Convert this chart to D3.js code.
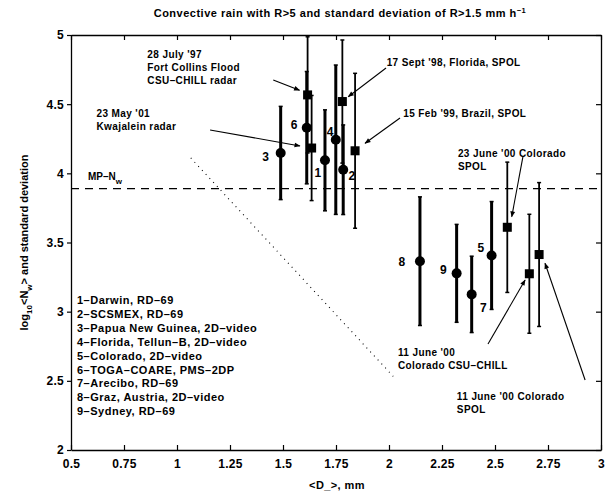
<!DOCTYPE html>
<html>
<head>
<meta charset="utf-8">
<script src="https://cdn.jsdelivr.net/npm/d3@7"></script>
<style>
  body { margin: 0; background: #fff; }
  text { font-family: "Liberation Sans", Arial, sans-serif; font-weight: bold; fill: #000; }
</style>
</head>
<body>
<svg id="chart"></svg>
<script>
// disdrometer sites (circles)
var siteIds = ["1", "2", "3", "4", "5", "6", "7", "8", "9"]
var siteD = [1.698, 1.784, 1.489, 1.749, 2.484, 1.612, 2.39, 2.146, 2.319]
var siteNw = [4.094, 4.026, 4.147, 4.243, 3.406, 4.33, 3.125, 3.365, 3.277]
var siteSd = [0.365, 0.324, 0.337, 0.54, 0.39, 0.406, 0.276, 0.465, 0.354]

// radar cases (squares)
var radarNames = ["28 July '97", "23 May '01", "17 Sept '98", "15 Feb '99", "23 June '00", "11 June '00 CHILL", "11 June '00 SPOL"]
var radarD = [1.616, 1.635, 1.78, 1.84, 2.558, 2.662, 2.708]
var radarNw = [4.567, 4.183, 4.519, 4.163, 3.61, 3.274, 3.413]
var radarSd = [0.42, 0.38, 0.445, 0.56, 0.471, 0.43, 0.52]

// dotted reference line
var refD = [1.065, 2.02]
var refNw = [4.111, 2.532]

var mpNw = 3.89

var legendLines = ["1\u2013Darwin, RD\u201369", "2\u2013SCSMEX, RD\u201369", "3\u2013Papua New Guinea, 2D\u2013video",
  "4\u2013Florida, Tellun\u2013B, 2D\u2013video", "5\u2013Colorado, 2D\u2013video", "6\u2013TOGA\u2013COARE, PMS\u20132DP",
  "7\u2013Arecibo, RD\u201369", "8\u2013Graz, Austria, 2D\u2013video", "9\u2013Sydney, RD\u201369"]

var xTicks = [0.5, 0.75, 1, 1.25, 1.5, 1.75, 2, 2.25, 2.5, 2.75, 3]
var yTicks = [2, 2.5, 3, 3.5, 4, 4.5, 5]

//svg dimensions
var dimensions = {
  width: 613,
  height: 499,
  margin: { top: 35, bottom: 49, left: 71, right: 12 }
}
var svg = d3.select("#chart")
  .attr("width", dimensions.width)
  .attr("height", dimensions.height)

var x = d3.scaleLinear().domain([0.5, 3]).range([dimensions.margin.left, dimensions.width - dimensions.margin.right])
var y = d3.scaleLinear().domain([2, 5]).range([dimensions.height - dimensions.margin.bottom, dimensions.margin.top])

//axes
svg.append("g")
  .attr("transform", `translate(0,${y(2)})`)
  .call(d3.axisBottom(x).tickValues(xTicks).tickFormat(d => String(d)).tickSizeInner(-5).tickSizeOuter(0).tickPadding(9))
svg.append("g")
  .attr("transform", `translate(0,${y(5)})`)
  .call(d3.axisTop(x).tickValues(xTicks).tickFormat("").tickSizeInner(-5).tickSizeOuter(0))
svg.append("g")
  .attr("transform", `translate(${x(0.5)},0)`)
  .call(d3.axisLeft(y).tickValues(yTicks).tickFormat(d => String(d)).tickSizeInner(4).tickSizeOuter(0).tickPadding(3))
svg.append("g")
  .attr("transform", `translate(${x(3)},0)`)
  .call(d3.axisRight(y).tickValues(yTicks).tickFormat("").tickSizeInner(-5).tickSizeOuter(0))
svg.selectAll(".domain").attr("stroke", "#000").attr("stroke-width", 1.3)
svg.selectAll(".tick line").attr("stroke", "#000").attr("stroke-width", 1.2)
svg.selectAll(".tick text").style("font-size", "12px").style("letter-spacing", "0.3px")
  .style("font-family", "Liberation Sans, Arial").style("font-weight", "bold").attr("fill", "#000")

//title and axis labels
var title = svg.append("text").attr("x", 340).attr("y", 17).attr("text-anchor", "middle")
  .style("font-size", "11px").style("letter-spacing", "0.5px")
title.append("tspan").text("Convective rain with R>5 and standard deviation of R>1.5 mm h")
title.append("tspan").attr("dy", -4).style("font-size", "7.5px").text("\u22121")

svg.append("text").attr("x", 337).attr("y", 489).attr("text-anchor", "middle")
  .style("font-size", "11px").style("letter-spacing", "0.4px").text("<D_>, mm")

var ylab = svg.append("text").attr("transform", `translate(28,${y(3.5)}) rotate(-90)`).attr("text-anchor", "middle").style("font-size", "11px")
ylab.append("tspan").text("log")
ylab.append("tspan").attr("dy", 4).style("font-size", "8px").text("10")
ylab.append("tspan").attr("dy", -4).text("<N")
ylab.append("tspan").attr("dy", 4).style("font-size", "8px").text("w")
ylab.append("tspan").attr("dy", -4).text("> and standard deviation")

//MP line
svg.append("line")
  .attr("x1", x(0.5)).attr("x2", x(3)).attr("y1", y(mpNw)).attr("y2", y(mpNw))
  .attr("stroke", "#000").attr("stroke-width", 1.3).attr("stroke-dasharray", "8,6")
var mp = svg.append("text").attr("x", 88).attr("y", y(mpNw) - 9).style("font-size", "10px")
mp.append("tspan").text("MP\u2013N")
mp.append("tspan").attr("dy", 4).style("font-size", "8px").text("w")

//dotted line
svg.append("line")
  .attr("x1", x(refD[0])).attr("y1", y(refNw[0])).attr("x2", x(refD[1])).attr("y2", y(refNw[1]))
  .attr("stroke", "#000").attr("stroke-width", 1.1).attr("stroke-dasharray", "1,4.5")

//error bars
function bars(D, Nw, Sd, w) {
  var g = svg.append("g")
  D.forEach((d, i) => {
    g.append("line").attr("x1", x(d)).attr("x2", x(d))
      .attr("y1", y(Nw[i] + Sd[i])).attr("y2", y(Nw[i] - Sd[i]))
      .attr("stroke", "#000").attr("stroke-width", w)
    ;[Nw[i] + Sd[i], Nw[i] - Sd[i]].forEach(v => {
      g.append("line").attr("x1", x(d) - 2).attr("x2", x(d) + 2).attr("y1", y(v)).attr("y2", y(v))
        .attr("stroke", "#000").attr("stroke-width", 1.5)
    })
  })
}
bars(siteD, siteNw, siteSd, 3)
bars(radarD, radarNw, radarSd, 1.8)

svg.append("g").selectAll("circle").data(siteD).join("circle")
  .attr("cx", d => x(d)).attr("cy", (d, i) => y(siteNw[i])).attr("r", 5).attr("fill", "#000")
svg.append("g").selectAll("rect").data(radarD).join("rect")
  .attr("x", d => x(d) - 4.5).attr("y", (d, i) => y(radarNw[i]) - 4.5).attr("width", 9).attr("height", 9).attr("fill", "#000")

//site number labels (offsets in data units)
var idDx = [-0.034, 0.041, -0.071, -0.027, -0.051, -0.06, 0.055, -0.086, -0.063]
var idDy = [-0.123, -0.074, -0.056, 0.029, 0.023, -0.01, -0.13, -0.033, -0.005]
svg.append("g").selectAll("text").data(siteIds).join("text")
  .attr("x", (d, i) => x(siteD[i] + idDx[i])).attr("y", (d, i) => y(siteNw[i] + idDy[i]))
  .attr("text-anchor", "middle").style("font-size", "12px").text(d => d)

//legend
svg.append("g").selectAll("text").data(legendLines).join("text")
  .attr("x", 77).attr("y", (d, i) => 304 + i * 13.9)
  .style("font-size", "11px").style("letter-spacing", "0.5px").text(d => d)

//annotations: text lines at (tx, ty) in data units, arrow from (ax0, ay0) to (ax1, ay1)
var annText = [["28 July '97", "Fort Collins Flood", "CSU\u2013CHILL radar"], ["23 May '01", "Kwajalein radar"],
  ["17 Sept '98, Florida, SPOL"], ["15 Feb '99, Brazil, SPOL"], ["23 June '00 Colorado", "SPOL"],
  ["11 June '00", "Colorado CSU\u2013CHILL"], ["11 June '00 Colorado", "SPOL"]]
var annTx = [0.86, 0.62, 1.989, 2.067, 2.325, 2.042, 2.32]
var annTy = [4.835, 4.41, 4.776, 4.404, 4.118, 2.68, 2.361]
var annAx0 = [1.454, 1.156, 1.986, 2.052, 2.632, 2.467, 2.925]
var annAy0 = [4.675, 4.313, 4.761, 4.4, 4.123, 2.766, 2.506]
var annAx1 = [1.578, 1.58, 1.808, 1.887, 2.579, 2.642, 2.736]
var annAy1 = [4.6, 4.198, 4.554, 4.217, 3.686, 3.229, 3.35]

svg.append("defs").append("marker").attr("id", "arr").attr("viewBox", "0 0 10 10")
  .attr("refX", 9).attr("refY", 5).attr("markerWidth", 8).attr("markerHeight", 6).attr("orient", "auto")
  .attr("markerUnits", "userSpaceOnUse")
  .append("path").attr("d", "M0,1 L10,5 L0,9 Z").attr("fill", "#000")

annText.forEach((lines, i) => {
  lines.forEach((t, j) => {
    svg.append("text").attr("x", x(annTx[i])).attr("y", y(annTy[i]) + j * 13)
      .style("font-size", "10px").style("letter-spacing", "0.4px").text(t)
  })
  svg.append("line")
    .attr("x1", x(annAx0[i])).attr("y1", y(annAy0[i])).attr("x2", x(annAx1[i])).attr("y2", y(annAy1[i]))
    .attr("stroke", "#000").attr("stroke-width", 1.1).attr("marker-end", "url(#arr)")
})
</script>
</body>
</html>
